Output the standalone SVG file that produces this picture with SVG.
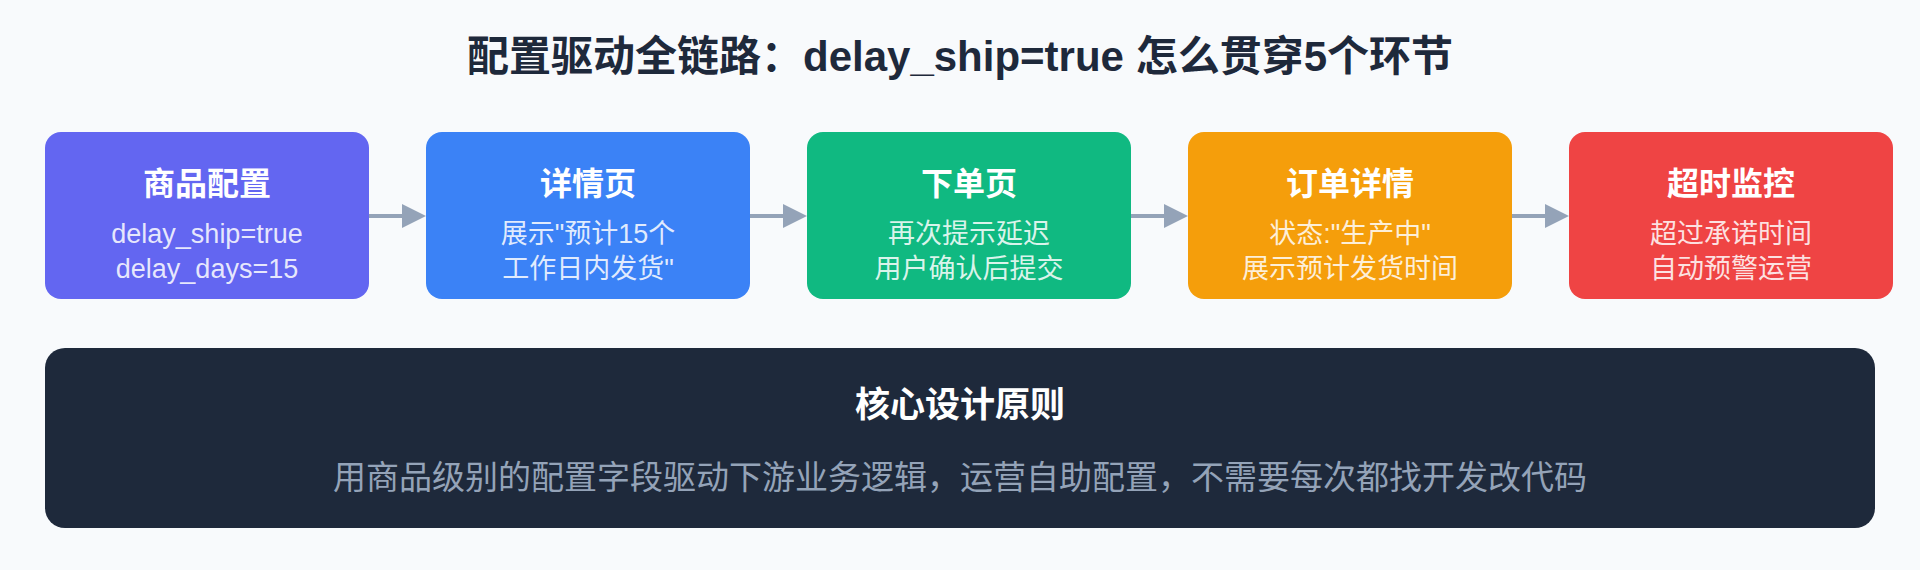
<svg xmlns="http://www.w3.org/2000/svg" width="1920" height="570" viewBox="0 0 1920 570">
<defs>
<style>
.t{font-family:"Liberation Sans","Noto Sans CJK SC",sans-serif;text-anchor:middle}
.title{font-size:42px;font-weight:700;fill:#1e293b}
.nt{font-size:32px;font-weight:700;fill:#ffffff}
.ns{font-size:27px;fill:#ffffff;fill-opacity:0.85}
.pt{font-size:35px;font-weight:700;fill:#ffffff}
.ps{font-size:33px;fill:#94a3b8}
.conn{stroke:#94a3b8;stroke-width:4;fill:none}
</style>
<marker id="arr" markerUnits="userSpaceOnUse" viewBox="0 0 24 24" markerWidth="24" markerHeight="24" refX="0" refY="12" orient="auto">
<path d="M0,0 L24,12 L0,24 Z" fill="#94a3b8"/>
</marker>
</defs>
<rect x="0" y="0" width="1920" height="570" fill="#f8fafc"/>
<text class="t title" x="960" y="71">配置驱动全链路：delay_ship=true 怎么贯穿5个环节</text>
<g id="connectors">
<line class="conn" x1="369" y1="216" x2="402" y2="216" marker-end="url(#arr)"/>
<line class="conn" x1="750" y1="216" x2="783" y2="216" marker-end="url(#arr)"/>
<line class="conn" x1="1131" y1="216" x2="1164" y2="216" marker-end="url(#arr)"/>
<line class="conn" x1="1512" y1="216" x2="1545" y2="216" marker-end="url(#arr)"/>
</g>
<g id="node1">
<rect x="45" y="132" width="324" height="167" rx="16" fill="#6366f1"/>
<text class="t nt" x="207" y="195">商品配置</text>
<text class="t ns" x="207" y="243">delay_ship=true</text>
<text class="t ns" x="207" y="278">delay_days=15</text>
</g>
<g id="node2">
<rect x="426" y="132" width="324" height="167" rx="16" fill="#3b82f6"/>
<text class="t nt" x="588" y="195">详情页</text>
<text class="t ns" x="588" y="243">展示"预计15个</text>
<text class="t ns" x="588" y="278">工作日内发货"</text>
</g>
<g id="node3">
<rect x="807" y="132" width="324" height="167" rx="16" fill="#10b981"/>
<text class="t nt" x="969" y="195">下单页</text>
<text class="t ns" x="969" y="243">再次提示延迟</text>
<text class="t ns" x="969" y="278">用户确认后提交</text>
</g>
<g id="node4">
<rect x="1188" y="132" width="324" height="167" rx="16" fill="#f59e0b"/>
<text class="t nt" x="1350" y="195">订单详情</text>
<text class="t ns" x="1350" y="243">状态:"生产中"</text>
<text class="t ns" x="1350" y="278">展示预计发货时间</text>
</g>
<g id="node5">
<rect x="1569" y="132" width="324" height="167" rx="16" fill="#ef4444"/>
<text class="t nt" x="1731" y="195">超时监控</text>
<text class="t ns" x="1731" y="243">超过承诺时间</text>
<text class="t ns" x="1731" y="278">自动预警运营</text>
</g>
<g id="principle">
<rect x="45" y="348" width="1830" height="180" rx="20" fill="#1e293b"/>
<text class="t pt" x="960" y="417">核心设计原则</text>
<text class="t ps" x="960" y="489">用商品级别的配置字段驱动下游业务逻辑，运营自助配置，不需要每次都找开发改代码</text>
</g>
</svg>
